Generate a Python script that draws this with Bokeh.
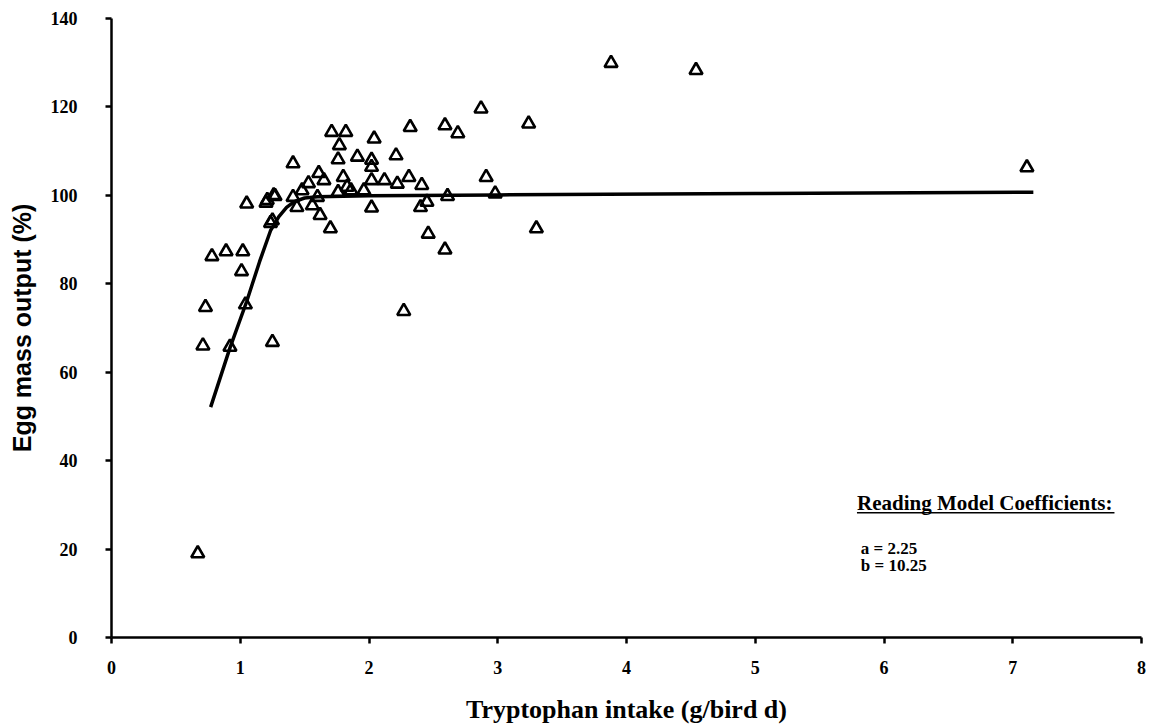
from bokeh.plotting import figure
from bokeh.models import Range1d, Label, FixedTicker
from bokeh.embed import file_html
from bokeh.resources import INLINE

# Observed data (tryptophan intake g/bird d, egg mass output %)
trp_intake = [0.67, 0.71, 0.73, 0.78, 0.89, 1.02, 1.01, 1.05, 1.04, 0.92, 1.25,
              1.20, 1.27, 1.235, 1.25, 1.21, 1.26,
              1.41, 1.41, 1.44, 1.48, 1.53, 1.56, 1.60, 1.61, 1.62, 1.65, 1.70,
              1.71, 1.82, 1.77, 1.76, 1.91, 1.80, 1.83, 1.76, 1.86, 1.96,
              2.02, 2.02, 2.02, 2.02, 2.04, 2.12, 2.21, 2.22, 2.27, 2.31, 2.32,
              2.40, 2.41, 2.45, 2.46, 2.59, 2.59, 2.61, 2.69, 2.87, 2.91, 2.98,
              3.24, 3.30, 3.88, 4.54, 7.11]
egg_mass = [19.0, 66.0, 74.7, 86.2, 87.3, 87.3, 82.8, 98.1, 75.3, 65.7, 66.8,
            98.3, 99.8, 93.7, 94.3, 98.9, 100.0,
            107.2, 99.6, 97.3, 101.1, 102.7, 97.7, 99.6, 105.0, 95.5, 103.4, 92.5,
            114.3, 114.3, 111.3, 108.1, 108.7, 104.1, 101.9, 100.7, 101.1, 101.1,
            108.0, 106.4, 103.4, 97.2, 112.8, 103.4, 109.0, 102.6, 73.8, 104.1, 115.4,
            97.3, 102.3, 98.5, 91.3, 115.8, 87.7, 99.8, 114.0, 119.6, 104.1, 100.4,
            116.2, 92.5, 129.9, 128.3, 106.3]

# Reading model fitted curve
fit_x = [0.77, 0.92, 1.05, 1.15, 1.235, 1.30, 1.36, 1.42, 1.50, 1.60, 2.0, 3.0, 5.0, 7.16]
fit_y = [52.1, 65.5, 76.0, 85.0, 92.0, 95.2, 97.3, 98.6, 99.4, 99.7, 99.9, 100.1, 100.4, 100.7]

x_ticks = [0, 1, 2, 3, 4, 5, 6, 7, 8]
y_ticks = [0, 20, 40, 60, 80, 100, 120, 140]

title_text = "Reading Model Coefficients:"
coef_a = "a = 2.25"
coef_b = "b = 10.25"

SERIF = "Liberation Serif"
SANS = "Liberation Sans"

p = figure(width=1152, height=728, output_backend="svg", toolbar_location=None,
           x_range=Range1d(0, 8), y_range=Range1d(0, 140),
           min_border_left=111, min_border_right=11, min_border_top=18,
           min_border_bottom=91)
p.outline_line_color = None
p.grid.visible = False
p.background_fill_color = "white"
p.border_fill_color = "white"

p.line(fit_x, fit_y, line_color="black", line_width=3.5)
p.scatter(trp_intake, egg_mass, marker="triangle", size=13, fill_color=None,
          line_color="black", line_width=2.6)

for ax in (p.xaxis[0], p.yaxis[0]):
    ax.axis_line_width = 2.5
    ax.axis_line_color = "black"
    ax.major_tick_line_width = 2.5
    ax.major_tick_line_color = "black"
    ax.major_tick_out = 6
    ax.major_tick_in = 0
    ax.minor_tick_line_color = None
    ax.major_label_text_font = SERIF
    ax.major_label_text_font_style = "bold"
    ax.major_label_text_font_size = "18px"
    ax.major_label_text_color = "black"
    ax.axis_label_text_color = "black"

p.xaxis.ticker = FixedTicker(ticks=x_ticks)
p.yaxis.ticker = FixedTicker(ticks=y_ticks)
p.xaxis.major_label_standoff = 17
p.yaxis.major_label_standoff = 28

p.xaxis.axis_label = "Tryptophan intake (g/bird d)"
p.xaxis.axis_label_text_font = SERIF
p.xaxis.axis_label_text_font_style = "bold"
p.xaxis.axis_label_text_font_size = "26px"
p.xaxis.axis_label_standoff = 18

p.yaxis.axis_label = "Egg mass output (%)"
p.yaxis.axis_label_text_font = SANS
p.yaxis.axis_label_text_font_style = "bold"
p.yaxis.axis_label_text_font_size = "25px"
p.yaxis.axis_label_standoff = 12

# Annotation block
ann_x = 5.79
p.add_layout(Label(x=ann_x, y=30.5, text=title_text, text_font=SERIF,
                   text_font_style="bold", text_font_size="21px",
                   text_baseline="middle", text_color="black"))
p.segment(x0=[ann_x], y0=[28.2], x1=[7.79], y1=[28.2], line_color="black",
          line_width=1.5)
p.add_layout(Label(x=ann_x + 0.03, y=20.1, text=coef_a, text_font=SERIF,
                   text_font_style="bold", text_font_size="17px",
                   text_baseline="middle", text_color="black"))
p.add_layout(Label(x=ann_x + 0.03, y=16.3, text=coef_b, text_font=SERIF,
                   text_font_style="bold", text_font_size="17px",
                   text_baseline="middle", text_color="black"))

open("out.html", "w").write(file_html(p, INLINE))
